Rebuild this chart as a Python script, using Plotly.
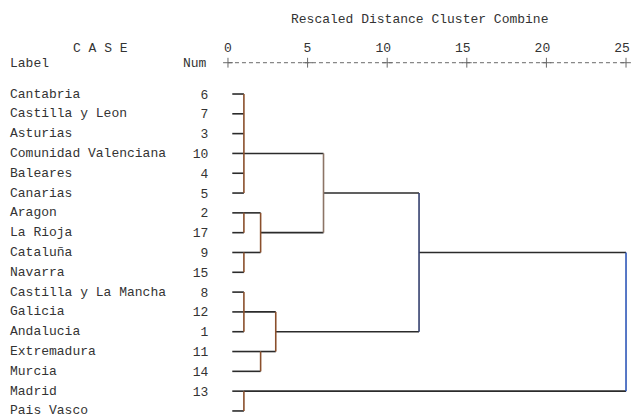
import plotly.graph_objects as go

# ---- data ----
leaf_labels = ["Cantabria", "Castilla y Leon", "Asturias", "Comunidad Valenciana",
               "Baleares", "Canarias", "Aragon", "La Rioja", "Cataluña", "Navarra",
               "Castilla y La Mancha", "Galicia", "Andalucia", "Extremadura",
               "Murcia", "Madrid", "Pais Vasco"]
leaf_nums = [6, 7, 3, 10, 4, 5, 2, 17, 9, 15, 8, 12, 1, 11, 14, 13, 16]

# node ids: leaves 0..16, merges 17.. in order below
merge_children = [[0, 1, 2, 3, 4, 5],  # 17
                  [6, 7],              # 18
                  [8, 9],              # 19
                  [18, 19],            # 20
                  [17, 20],            # 21
                  [10, 11, 12],        # 22
                  [13, 14],            # 23
                  [22, 23],            # 24
                  [21, 24],            # 25
                  [15, 16],            # 26
                  [25, 26]]            # 27
merge_dist = [1.0, 1.0, 1.0, 2.05, 6.0, 1.0, 2.05, 3.0, 12.0, 1.0, 25.0]
merge_row = [3, 6, 8, 7, 5, 11, 13, 12, 8, 15, None]
leaf_start = 0.27

axis_ticks = [0, 5, 10, 15, 20, 25]
title_text = "Rescaled Distance Cluster Combine"

FONT = "Liberation Mono, Courier New, monospace"
TXT = "#333333"

n_leaf = len(leaf_labels)
node_row = {i: i for i in range(n_leaf)}
node_x = {i: leaf_start for i in range(n_leaf)}
for k, r in enumerate(merge_row):
    node_row[n_leaf + k] = r
    node_x[n_leaf + k] = merge_dist[k]

hx, hy = [], []
vert = {}
for k, ch in enumerate(merge_children):
    d = merge_dist[k]
    rows = []
    for c in ch:
        hx += [node_x[c], d, None]
        hy += [node_row[c], node_row[c], None]
        rows.append(node_row[c])
    if d <= 3.5:
        col = "#8a4f2c"
    elif d <= 7:
        col = "#8c7466"
    elif d <= 15:
        col = "#34406e"
    else:
        col = "#2e56b8"
    vert.setdefault(col, ([], []))
    vert[col][0].extend([d, d, None])
    vert[col][1].extend([min(rows), max(rows), None])

fig = go.Figure()
fig.add_trace(go.Scatter(x=hx, y=hy, mode="lines",
                         line=dict(color="#2b2b2b", width=1.6),
                         hoverinfo="skip", showlegend=False))
for col, (vx, vy) in vert.items():
    fig.add_trace(go.Scatter(x=vx, y=vy, mode="lines",
                             line=dict(color=col, width=1.6),
                             hoverinfo="skip", showlegend=False))

axis_row = -1.58
fig.add_trace(go.Scatter(x=[axis_ticks[0], axis_ticks[-1]], y=[axis_row, axis_row],
                         mode="lines", line=dict(color="#6a6a6a", width=1, dash="4px,3px"),
                         hoverinfo="skip", showlegend=False))
fig.add_trace(go.Scatter(x=axis_ticks, y=[axis_row] * len(axis_ticks), mode="markers",
                         marker=dict(symbol="cross-thin", size=7,
                                     line=dict(color="#6a6a6a", width=1)),
                         cliponaxis=False, hoverinfo="skip", showlegend=False))

L, R, T, B, W, H = 224, 2, 55, 0, 632, 417
def px_x(p):
    return (p - L) / (W - L - R)
def px_y(p):
    return (H - B - p) / (H - T - B)

f = dict(family=FONT, size=13, color=TXT)
annos = []
for i, lab in enumerate(leaf_labels):
    annos.append(dict(x=px_x(8), y=i, xref="paper", yref="y", text=lab, showarrow=False,
                      xanchor="left", yanchor="middle", font=f))
annos += [
    dict(x=px_x(419.5), y=px_y(20), xref="paper", yref="paper", text=title_text,
         showarrow=False, xanchor="center", yanchor="middle", font=f),
    dict(x=px_x(71), y=px_y(48), xref="paper", yref="paper", text="C A S E",
         showarrow=False, xanchor="left", yanchor="middle", font=f),
    dict(x=px_x(8), y=px_y(63), xref="paper", yref="paper", text="Label",
         showarrow=False, xanchor="left", yanchor="middle", font=f),
    dict(x=px_x(209), y=px_y(63), xref="paper", yref="paper", text="Num",
         showarrow=False, xanchor="right", yanchor="middle", font=f),
]

# tick labels are right-aligned over the "+" marks (monospace column layout)
tick_text = [("\u00a0" if t < 10 else "") + str(t) for t in axis_ticks]

fig.update_layout(
    width=W, height=H,
    margin=dict(l=L, r=R, t=T, b=B, autoexpand=False),
    paper_bgcolor="white", plot_bgcolor="white",
    annotations=annos,
    xaxis=dict(range=[-0.25, 25.25], side="top", tickvals=axis_ticks,
               ticktext=tick_text, ticklabeloverflow="allow", automargin=False,
               showgrid=False, zeroline=False, showline=False,
               ticks="outside", ticklen=0, ticklabelstandoff=-3, ticklabelshift=-4,
               tickfont=f),
    yaxis=dict(range=[16.305, -1.969], tickvals=list(range(n_leaf)),
               ticktext=[str(n) for n in leaf_nums], automargin=False,
               showgrid=False, zeroline=False, showline=False,
               ticks="outside", ticklen=12, tickcolor="rgba(0,0,0,0)",
               tickfont=f),
)

fig.write_html("out.html", config={"displayModeBar": False},
               post_script="document.body.style.margin='0';")
